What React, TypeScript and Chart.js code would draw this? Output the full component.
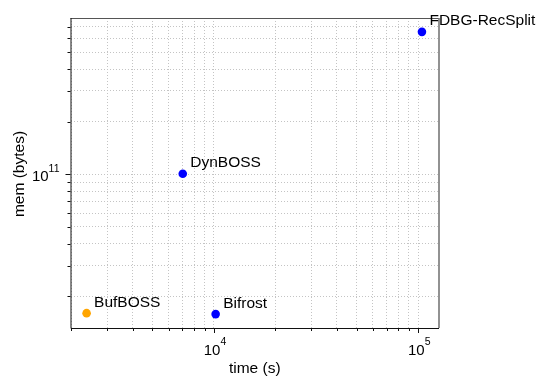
import React, { useEffect, useRef } from "react";
import { Chart, registerables } from "chart.js";

Chart.register(...registerables);

const names = ["FDBG-RecSplit", "DynBOSS", "BufBOSS", "Bifrost"];
const timeSec = [104200, 7035, 2380, 10190];
const memBytes = [6.54e11, 1.007e11, 1.605e10, 1.585e10];
const pointColors = ["#0000ff", "#0000ff", "#ffa500", "#0000ff"];

const xMin = 1985;
const xMax = 126300;
const yMin = 1.32e10;
const yMax = 7.85e11;

const xMajorExp = [4, 5];
const yMajorExp = [11];

const FONT = "'Liberation Sans', Arial, Helvetica, sans-serif";

function logTicks(min: number, max: number): { value: number; major: boolean }[] {
  const out: { value: number; major: boolean }[] = [];
  const e0 = Math.floor(Math.log10(min));
  const e1 = Math.ceil(Math.log10(max));
  for (let e = e0; e <= e1; e++) {
    for (let m = 1; m <= 9; m++) {
      const v = m * Math.pow(10, e);
      if (v >= min * 0.999 && v <= max * 1.001) out.push({ value: v, major: m === 1 });
    }
  }
  return out;
}

const decorPlugin = {
  id: "decor",
  afterDatasetsDraw(chart: any) {
    const ctx = chart.ctx;
    const { left, right, top, bottom } = chart.chartArea;
    const xs = chart.scales.x;
    const ys = chart.scales.y;
    ctx.save();
    // spines
    ctx.lineWidth = 1;
    ctx.strokeStyle = "#555";
    ctx.beginPath();
    ctx.moveTo(left, top + 0.5);
    ctx.lineTo(right, top + 0.5);
    ctx.stroke();
    ctx.strokeStyle = "#777";
    ctx.lineWidth = 1.6;
    ctx.beginPath();
    ctx.moveTo(right, top);
    ctx.lineTo(right, bottom);
    ctx.stroke();
    ctx.strokeStyle = "#111";
    ctx.lineWidth = 1;
    ctx.beginPath();
    ctx.moveTo(left + 0.5, top);
    ctx.lineTo(left + 0.5, bottom + 0.5);
    ctx.lineTo(right, bottom + 0.5);
    ctx.stroke();
    // ticks
    ctx.strokeStyle = "#111";
    ctx.lineWidth = 1;
    for (const t of logTicks(xMin, xMax)) {
      const px = Math.round(xs.getPixelForValue(t.value)) + 0.5;
      ctx.beginPath();
      ctx.moveTo(px, bottom);
      ctx.lineTo(px, bottom + (t.major ? 5 : 3));
      ctx.stroke();
    }
    for (const t of logTicks(yMin, yMax)) {
      const py = Math.round(ys.getPixelForValue(t.value)) + 0.5;
      ctx.beginPath();
      ctx.moveTo(left, py);
      ctx.lineTo(left - (t.major ? 5 : 3), py);
      ctx.stroke();
    }
    // tick labels with superscripts
    ctx.fillStyle = "#000";
    ctx.textBaseline = "alphabetic";
    const base = `15px ${FONT}`;
    const sup = `10.5px ${FONT}`;
    for (const e of xMajorExp) {
      const px = xs.getPixelForValue(Math.pow(10, e));
      ctx.font = base;
      const w1 = ctx.measureText("10").width;
      ctx.font = sup;
      const w2 = ctx.measureText(String(e)).width;
      const start = px - (w1 + w2) / 2 + 1;
      ctx.font = base;
      ctx.textAlign = "left";
      ctx.fillText("10", start, bottom + 27);
      ctx.font = sup;
      ctx.fillText(String(e), start + w1, bottom + 17);
    }
    for (const e of yMajorExp) {
      const py = ys.getPixelForValue(Math.pow(10, e));
      ctx.font = sup;
      const w2 = ctx.measureText(String(e)).width;
      ctx.font = base;
      const w1 = ctx.measureText("10").width;
      const end = left - 11;
      ctx.textAlign = "left";
      ctx.fillText("10", end - w1 - w2, py + 7);
      ctx.font = sup;
      ctx.fillText(String(e), end - w2, py - 2.5);
    }
    // axis titles
    ctx.font = `15.5px ${FONT}`;
    ctx.textAlign = "center";
    ctx.fillText("time (s)", (left + right) / 2, 373);
    ctx.save();
    ctx.translate(24, (top + bottom) / 2 + 1);
    ctx.rotate(-Math.PI / 2);
    ctx.fillText("mem (bytes)", 0, 0);
    ctx.restore();
    // point annotations
    ctx.font = `15.5px ${FONT}`;
    ctx.textAlign = "left";
    for (let i = 0; i < names.length; i++) {
      const px = xs.getPixelForValue(timeSec[i]);
      const py = ys.getPixelForValue(memBytes[i]);
      ctx.fillText(names[i], px + 7.5, py - 6.5);
    }
    ctx.restore();
  },
};

function buildTicks(min: number, max: number) {
  return (scale: any) => {
    scale.ticks = logTicks(min, max).map((t) => ({ value: t.value, major: t.major }));
  };
}

export default function App() {
  const ref = useRef<HTMLCanvasElement | null>(null);
  useEffect(() => {
    document.body.style.margin = "0";
    const canvas = ref.current;
    if (!canvas) return;
    const chart = new Chart(canvas, {
      type: "scatter",
      data: {
        datasets: [
          {
            data: timeSec.map((t, i) => ({ x: t, y: memBytes[i] })),
            backgroundColor: pointColors,
            borderColor: pointColors,
            pointRadius: 4.3,
            pointHoverRadius: 4.3,
            borderWidth: 0,
          },
        ],
      },
      options: {
        animation: false,
        responsive: false,
        maintainAspectRatio: false,
        events: [],
        layout: { padding: { left: 70.5, right: 100, top: 18, bottom: 48 } },
        plugins: { legend: { display: false }, tooltip: { enabled: false }, title: { display: false } },
        scales: {
          x: {
            type: "logarithmic",
            min: xMin,
            max: xMax,
            afterBuildTicks: buildTicks(xMin, xMax),
            ticks: { display: false },
            border: { display: false, dash: [1, 2] },
            grid: { color: "#c4c4c4", lineWidth: 1, drawTicks: false, tickLength: 0 },
          },
          y: {
            type: "logarithmic",
            min: yMin,
            max: yMax,
            afterBuildTicks: buildTicks(yMin, yMax),
            ticks: { display: false },
            border: { display: false, dash: [1, 2] },
            grid: { color: "#c4c4c4", lineWidth: 1, drawTicks: false, tickLength: 0 },
          },
        },
      } as any,
      plugins: [decorPlugin],
    });
    return () => chart.destroy();
  }, []);
  return (
    <div style={{ width: 539, height: 376 }}>
      <canvas ref={ref} width={539} height={376} style={{ display: "block" }} />
    </div>
  );
}
